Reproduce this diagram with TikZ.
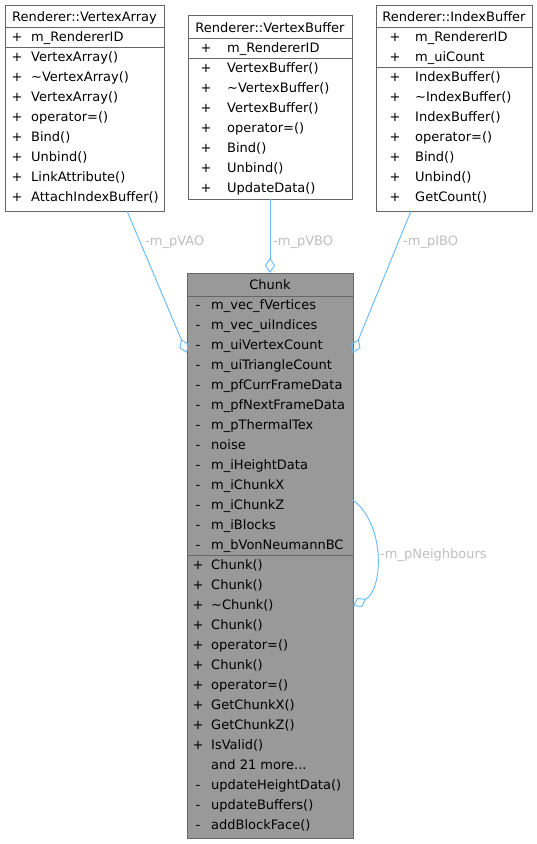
\documentclass[tikz,border=0pt]{standalone}
\usepackage{fontspec}
\setmainfont{DejaVu Sans}
\usetikzlibrary{arrows.meta}
\definecolor{edgeblue}{HTML}{63B8FF}
\definecolor{bordergray}{HTML}{666666}
\definecolor{chunkfill}{HTML}{999999}
\definecolor{labelgray}{HTML}{BEBEBE}
\begin{document}
\begin{tikzpicture}[x=1pt,y=-1pt,
  every node/.style={font=\fontsize{13}{15}\selectfont, inner sep=0pt, text height=9.5pt, text depth=1.5pt},
  box/.style={draw=bordergray, line width=0.9pt, fill=white, anchor=north west, text height=, text depth=},
  sep/.style={draw=bordergray, line width=0.9pt},
  row/.style={anchor=west},
  vis/.style={anchor=center},
  elabel/.style={anchor=west, text=labelgray},
  edge/.style={draw=edgeblue, line width=0.9pt},
  agg/.style={{Diamond[open, length=15pt, width=10pt]}-}
]
\useasboundingbox (0,0) rectangle (537,844);

% ---------- Renderer::VertexArray ----------
\node[box, minimum width=159pt, minimum height=206pt] (va) at (5,5) {};
\node (va-t) at (84.5,17) {Renderer::VertexArray};
\draw[sep] (va.west |- 0,27) -- (va.east |- 0,27);
\node[vis] (va-av1) at (17,37) {+};
\node[row] (va-a1) at (31,37) {m\_RendererID};
\draw[sep] (va.west |- 0,47.5) -- (va.east |- 0,47.5);
\foreach [count=\i] \t in {VertexArray(), \textasciitilde VertexArray(), VertexArray(), operator=(), Bind(), Unbind(), LinkAttribute(), AttachIndexBuffer()} {
  \node[vis] (va-mv\i) at (17,37+20*\i) {+};
  \node[row] (va-m\i) at (31,37+20*\i) {\t};
}

% ---------- Renderer::VertexBuffer ----------
\node[box, minimum width=164pt, minimum height=184pt] (vb) at (188,15) {};
\node (vb-t) at (270,28) {Renderer::VertexBuffer};
\draw[sep] (vb.west |- 0,38) -- (vb.east |- 0,38);
\node[vis] (vb-av1) at (206,48) {+};
\node[row] (vb-a1) at (227,48) {m\_RendererID};
\draw[sep] (vb.west |- 0,58) -- (vb.east |- 0,58);
\foreach [count=\i] \t in {VertexBuffer(), \textasciitilde VertexBuffer(), VertexBuffer(), operator=(), Bind(), Unbind(), UpdateData()} {
  \node[vis] (vb-mv\i) at (206,48+20*\i) {+};
  \node[row] (vb-m\i) at (227,48+20*\i) {\t};
}

% ---------- Renderer::IndexBuffer ----------
\node[box, minimum width=156pt, minimum height=206pt] (ib) at (376,5) {};
\node (ib-t) at (454,17) {Renderer::IndexBuffer};
\draw[sep] (ib.west |- 0,27) -- (ib.east |- 0,27);
\foreach [count=\i] \t in {m\_RendererID, m\_uiCount} {
  \node[vis] (ib-av\i) at (395,17+20*\i) {+};
  \node[row] (ib-a\i) at (415,17+20*\i) {\t};
}
\draw[sep] (ib.west |- 0,67) -- (ib.east |- 0,67);
\foreach [count=\i] \t in {IndexBuffer(), \textasciitilde IndexBuffer(), IndexBuffer(), operator=(), Bind(), Unbind(), GetCount()} {
  \node[vis] (ib-mv\i) at (395,57+20*\i) {+};
  \node[row] (ib-m\i) at (415,57+20*\i) {\t};
}

% ---------- Chunk ----------
\node[box, fill=chunkfill, minimum width=166pt, minimum height=565pt] (chunk) at (187,273) {};
\node (ch-t) at (270,285) {Chunk};
\draw[sep] (chunk.west |- 0,296) -- (chunk.east |- 0,296);
\foreach [count=\i] \t in {m\_vec\_fVertices, m\_vec\_uiIndices, m\_uiVertexCount, m\_uiTriangleCount, m\_pfCurrFrameData, m\_pfNextFrameData, m\_pThermalTex, noise, m\_iHeightData, m\_iChunkX, m\_iChunkZ, m\_iBlocks, m\_bVonNeumannBC} {
  \node[vis] (ch-av\i) at (198,285+20*\i) {-};
  \node[row] (ch-a\i) at (211,285+20*\i) {\t};
}
\draw[sep] (chunk.west |- 0,555) -- (chunk.east |- 0,555);
\foreach [count=\i] \t in {Chunk(), Chunk(), \textasciitilde Chunk(), Chunk(), operator=(), Chunk(), operator=(), GetChunkX(), GetChunkZ(), IsValid()} {
  \node[vis] (ch-mv\i) at (198,545+20*\i) {+};
  \node[row] (ch-m\i) at (211,545+20*\i) {\t};
}
\node[row] (ch-more) at (211,765) {and 21 more...};
\foreach [count=\i] \t in {updateHeightData(), updateBuffers(), addBlockFace()} {
  \node[vis] (ch-pv\i) at (198,765+20*\i) {-};
  \node[row] (ch-p\i) at (211,765+20*\i) {\t};
}

% ---------- connectors ----------
\coordinate (vaout) at (127,211);
\coordinate (vbout) at (270,199);
\coordinate (ibout) at (411,211);
\coordinate (c-vao) at (187,353);
\coordinate (c-vbo) at (270,273);
\coordinate (c-ibo) at (353,353);
\coordinate (c-nbin) at (353,606);
\coordinate (c-nbout) at (353,500);

\draw[edge, agg] (c-vao) -- (vaout);
\draw[edge, agg] (c-vbo) -- (vbout);
\draw[edge, agg] (c-ibo) -- (ibout);
\draw[edge, agg] (c-nbin) .. controls (383,590) and (386,525) .. (c-nbout);

\node[elabel] (l-vao) at (145,241) {-m\_pVAO};
\node[elabel] (l-vbo) at (273,241) {-m\_pVBO};
\node[elabel] (l-ibo) at (403,241) {-m\_pIBO};
\node[elabel] (l-nb) at (380,554) {-m\_pNeighbours};
\end{tikzpicture}
\end{document}
